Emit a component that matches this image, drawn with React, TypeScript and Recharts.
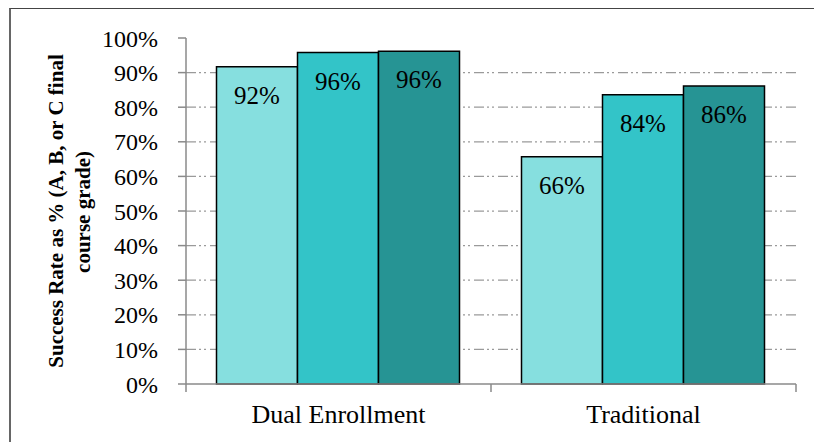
import React from 'react';
import {
  BarChart,
  Bar,
  XAxis,
  YAxis,
  CartesianGrid,
  LabelList } from
'recharts';

const categories = ['Dual Enrollment', 'Traditional'];
const seriesA = [91.7, 65.7];
const seriesB = [95.8, 83.6];
const seriesC = [96.2, 86.1];
const yTicks = [0, 10, 20, 30, 40, 50, 60, 70, 80, 90, 100];

const data = categories.map((name, i) => ({
  name,
  a: seriesA[i],
  b: seriesB[i],
  c: seriesC[i]
}));

const W = 814;
const H = 443;
const margin = { top: 38, right: 18, bottom: 19, left: 86 };
const yAxisWidth = 100;
const xAxisHeight = 40;
const bandWidth = (W - margin.left - yAxisWidth - margin.right) / categories.length;

const serif = "Tinos, 'Times New Roman', Times, 'Liberation Serif', 'DejaVu Serif', 'Noto Serif', serif";
const axisGray = '#8a8a8a';

const BarValue = (props: any) => {
  const { x, y, width, value } = props;
  return (
    <text
      x={x + width / 2}
      y={y + 37}
      textAnchor="middle"
      fontFamily={serif}
      fontSize={25}
      fill="#000">
      {Math.round(value)}%
    </text>);

};

const CategoryTick = (props: any) => {
  const { x, y, payload, index } = props;
  const left = x - bandWidth / 2;
  const right = x + bandWidth / 2;
  return (
    <g>
      <line x1={left} y1={y} x2={left} y2={y + 8} stroke={axisGray} strokeWidth={1.5} />
      {index === categories.length - 1 &&
      <line x1={right} y1={y} x2={right} y2={y + 8} stroke={axisGray} strokeWidth={1.5} />
      }
      <text x={x} y={y + 39} textAnchor="middle" fontFamily={serif} fontSize={26} fill="#000">
        {payload.value}
      </text>
    </g>);

};

const AxisTitle = () =>
<g fontFamily={serif} fontWeight="bold" fontSize={21} fill="#000" textAnchor="middle">
    <text transform="translate(63,211) rotate(-90)">Success Rate as % (A, B, or C final</text>
    <text transform="translate(90,212) rotate(-90)">course grade)</text>
  </g>;


export default function App() {
  return (
    <div
      style={{
        position: 'fixed',
        left: 0,
        top: 0,
        width: W,
        height: H,
        background: '#fff',
        fontFamily: serif
      }}>
      <div
        style={{
          position: 'absolute',
          left: 9,
          top: 8,
          right: 0,
          bottom: 1,
          borderLeft: '2px solid #666',
          borderTop: '1.5px solid #444'
        }} />
      
      <BarChart
        width={W}
        height={H}
        data={data}
        margin={margin}
        barCategoryGap="10%"
        barGap={0}
        style={{ position: 'absolute', left: 0, top: 0, fontFamily: serif }}>
        
        <CartesianGrid
          vertical={false}
          horizontalValues={yTicks.slice(1, -1)}
          stroke="#9a9a9a"
          strokeWidth={1.25}
          strokeDasharray="10 3 2 3 2 4" />
        
        <XAxis
          dataKey="name"
          height={xAxisHeight}
          axisLine={{ stroke: axisGray, strokeWidth: 1.5 }}
          tickLine={false}
          tickSize={0}
          tickMargin={0}
          tick={<CategoryTick />}
          interval={0} />
        
        <XAxis
          xAxisId="top"
          dataKey="name"
          orientation="top"
          height={0}
          tick={false}
          tickLine={false}
          axisLine={{ stroke: '#000', strokeWidth: 1.5 }} />
        
        <YAxis
          width={yAxisWidth}
          domain={[0, 100]}
          ticks={yTicks}
          interval={0}
          tickFormatter={(v: number) => `${v}%`}
          tickSize={8}
          tickMargin={20}
          axisLine={{ stroke: axisGray, strokeWidth: 1.5 }}
          tickLine={{ stroke: axisGray, strokeWidth: 1.5 }}
          tick={{ fontSize: 24, fill: '#000', fontFamily: serif }} />
        
        <YAxis
          yAxisId="right"
          orientation="right"
          width={0}
          domain={[0, 100]}
          tick={false}
          tickLine={false}
          axisLine={{ stroke: '#000', strokeWidth: 1.5 }} />
        
        <Bar dataKey="a" fill="#86DFDF" stroke="#000" strokeWidth={1.5} isAnimationActive={false}>
          <LabelList dataKey="a" content={<BarValue />} />
        </Bar>
        <Bar dataKey="b" fill="#33C4C8" stroke="#000" strokeWidth={1.5} isAnimationActive={false}>
          <LabelList dataKey="b" content={<BarValue />} />
        </Bar>
        <Bar dataKey="c" fill="#269494" stroke="#000" strokeWidth={1.5} isAnimationActive={false}>
          <LabelList dataKey="c" content={<BarValue />} />
        </Bar>
        <AxisTitle />
      </BarChart>
    </div>);

}
